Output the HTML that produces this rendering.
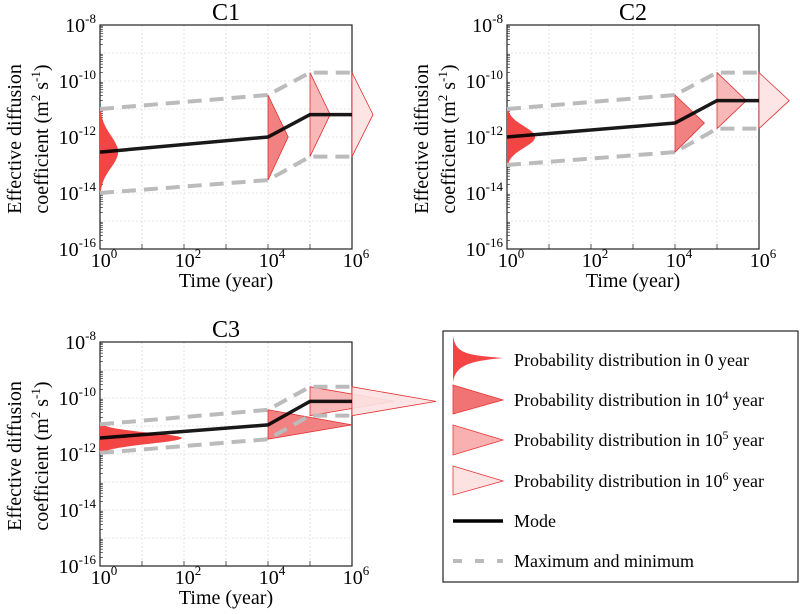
<!DOCTYPE html>
<html><head><meta charset="utf-8">
<style>
html,body{margin:0;padding:0;background:#fff;}
svg{display:block;font-family:"Liberation Serif",serif;}
</style></head>
<body>
<svg id="chart" width="800" height="614" viewBox="0 0 800 614" xmlns="http://www.w3.org/2000/svg">
  <g id="panels"></g>
  <g id="legend">
    <rect x="443" y="331" width="355" height="251" fill="#fff" stroke="#222" stroke-width="1.2"/>
    <path d="M453,335 C455,355 470,355 503,358 C470,361 455,365 453,383 Z" fill="#f44545"/>
    <text x="514" y="366" font-size="18">Probability distribution in 0 year</text>
    <polygon points="453,385 503,400 453,414" fill="#f17373" stroke="#e33" stroke-width="0.8"/>
    <text x="514" y="406" font-size="18">Probability distribution in 10<tspan font-size="12" dy="-7">4</tspan><tspan dy="7"> year</tspan></text>
    <polygon points="453,425 503,440 453,455" fill="#f8b0b0" stroke="#e33" stroke-width="0.8"/>
    <text x="514" y="446" font-size="18">Probability distribution in 10<tspan font-size="12" dy="-7">5</tspan><tspan dy="7"> year</tspan></text>
    <polygon points="453,466 503,481 453,495" fill="#fde2e2" stroke="#e33" stroke-width="0.8"/>
    <text x="514" y="487" font-size="18">Probability distribution in 10<tspan font-size="12" dy="-7">6</tspan><tspan dy="7"> year</tspan></text>
    <line x1="453" y1="521" x2="503" y2="521" stroke="#000" stroke-width="3.5"/>
    <text x="514" y="527" font-size="18">Mode</text>
    <line x1="453" y1="561" x2="503" y2="561" stroke="#bbb" stroke-width="4" stroke-dasharray="9,13"/>
    <text x="514" y="567" font-size="18">Maximum and minimum</text>
  </g>
</svg>
<script>
// log10 of time points (year) -- 0 year drawn at 10^0
const times = [0, 4, 5, 6];
const xTicks = [0, 2, 4, 6];
const yTicks = [-8, -10, -12, -14, -16];
// C1 (log10 values)
const c1Mode = [-12.54, -12.0, -11.2, -11.2];
const c1Max = [-11.0, -10.5, -9.7, -9.7];
const c1Min = [-14.0, -13.54, -12.7, -12.7];
const c1Width = [0.43, 0.48, 0.48, 0.5];
// C2
const c2Mode = [-12.0, -11.5, -10.7, -10.7];
const c2Max = [-11.0, -10.5, -9.7, -9.7];
const c2Min = [-13.0, -12.54, -11.7, -11.7];
const c2Width = [0.67, 0.7, 0.7, 0.72];
// C3
const c3Mode = [-11.43, -10.96, -10.12, -10.12];
const c3Max = [-10.94, -10.42, -9.6, -9.6];
const c3Min = [-11.96, -11.47, -10.63, -10.63];
const c3Width = [1.95, 2.0, 2.0, 2.0];

const NS = "http://www.w3.org/2000/svg";
const distFill = ["#f44545", "#f17373", "#f8b0b0", "#fde2e2"];
const distName = ["dist-0yr", "dist-1e4", "dist-1e5", "dist-1e6"];

function mk(tag, attrs, parent) {
  const e = document.createElementNS(NS, tag);
  for (const k in attrs) e.setAttribute(k, attrs[k]);
  parent.appendChild(e);
  return e;
}

function panel(id, left, top, title, mode, mx, mn, wd) {
  const W = 252, H = 224;
  const X = v => left + (v - 0) / 6 * W;
  const Y = v => top + (-8 - v) / 8 * H;
  const g = mk("g", {}, document.getElementById("panels"));
  
  
  for (let d = 1; d < 6; d++) {
    const l = mk("line", {x1: X(d), x2: X(d), y1: top, y2: top + H, stroke: "#ddd", "stroke-width": 0.8, "stroke-dasharray": "2,2"}, g);
    
    
  }
  for (let d = -9; d > -16; d--) {
    const l = mk("line", {x1: left, x2: left + W, y1: Y(d), y2: Y(d), stroke: "#ddd", "stroke-width": 0.8, "stroke-dasharray": "2,2"}, g);
    
    
  }
  for (let d = -16; d < -8; d++) {
    for (let m = 2; m < 10; m++) {
      const yy = Y(d + Math.log10(m));
      const t = mk("line", {x1: left, x2: left + 3, y1: yy, y2: yy, stroke: "#333", "stroke-width": 0.7}, g);
      
      
    }
  }
  for (let d = 1; d < 6; d++) {
    const t = mk("line", {x1: X(d), x2: X(d), y1: top + H, y2: top + H - 5, stroke: "#333", "stroke-width": 0.8}, g);
    
    
  }
  const fr = mk("rect", {x: left, y: top, width: W, height: H, fill: "none", stroke: "#222", "stroke-width": 1.2}, g);
  
  
  for (let i = 0; i < times.length; i++) {
    const x0 = X(times[i]);
    const xt = X(times[i] + wd[i]);
    if (i === 0) {
      const pts = [];
      const su = (mx[i] - mode[i]) / 2.6, sd = (mode[i] - mn[i]) / 2.6;
      const N = 40;
      for (let k = 0; k <= N; k++) {
        const v = mx[i] - (mx[i] - mn[i]) * k / N;
        const s = v > mode[i] ? su : sd;
        const w = Math.exp(-0.5 * Math.pow((v - mode[i]) / s, 2));
        pts.push((x0 + (xt - x0) * w).toFixed(1) + "," + Y(v).toFixed(1));
      }
      const d = "M" + x0 + "," + Y(mx[i]) + " L" + pts.join(" L") + " L" + x0 + "," + Y(mn[i]) + " Z";
      const p = mk("path", {d: d, fill: distFill[i]}, g);
      
      
    } else {
      const p = mk("polygon", {points: x0 + "," + Y(mx[i]) + " " + xt + "," + Y(mode[i]) + " " + x0 + "," + Y(mn[i]), fill: distFill[i], stroke: "#e03030", "stroke-width": 0.8, "fill-opacity": 0.9}, g);
      
      
    }
  }
  const line = arr => times.map((t, i) => X(t).toFixed(1) + "," + Y(arr[i]).toFixed(1)).join(" ");
  const pmx = mk("polyline", {points: line(mx), fill: "none", stroke: "#bbb", "stroke-width": 4, "stroke-dasharray": "14,8"}, g);
  
  
  const pmn = mk("polyline", {points: line(mn), fill: "none", stroke: "#bbb", "stroke-width": 4, "stroke-dasharray": "14,8"}, g);
  
  
  const pm = mk("polyline", {points: line(mode), fill: "none", stroke: "#000", "stroke-width": 3.5, "stroke-opacity": 0.9}, g);
  
  
  yTicks.forEach(v => {
    const t = mk("text", {x: left - 4, y: Y(v) + 7, "text-anchor": "end", "font-size": 20}, g);
    t.innerHTML = '10<tspan font-size="13" dy="-9">' + v + '</tspan>';
    
    
  });
  xTicks.forEach(v => {
    const t = mk("text", {x: X(v) + 4, y: top + H + 18, "text-anchor": "middle", "font-size": 20}, g);
    t.innerHTML = '10<tspan font-size="13" dy="-9">' + v + '</tspan>';
    
    
  });
  const xt = mk("text", {x: left + W / 2, y: top + H + 38, "text-anchor": "middle", "font-size": 20}, g);
  xt.textContent = "Time (year)";
  
  
  const cy = top + H / 2 + 2;
  const y1 = mk("text", {x: 0, y: 0, "text-anchor": "middle", "font-size": 20, transform: "translate(" + (left - 79) + "," + cy + ") rotate(-90)"}, g);
  y1.textContent = "Effective diffusion";
  
  
  const y2 = mk("text", {x: 0, y: 0, "text-anchor": "middle", "font-size": 20, transform: "translate(" + (left - 52) + "," + cy + ") rotate(-90)"}, g);
  y2.innerHTML = 'coefficient (m<tspan font-size="13" dy="-8">2</tspan><tspan dy="8"> s</tspan><tspan font-size="13" dy="-8">-1</tspan><tspan dy="8">)</tspan>';
  
  
  const ti = mk("text", {x: left + W / 2, y: top - 5, "text-anchor": "middle", "font-size": 24}, g);
  ti.textContent = title;
  
  
}
panel("c1", 100, 25, "C1", c1Mode, c1Max, c1Min, c1Width);
panel("c2", 507, 25, "C2", c2Mode, c2Max, c2Min, c2Width);
panel("c3", 100, 342, "C3", c3Mode, c3Max, c3Min, c3Width);
</script>
</body></html>
